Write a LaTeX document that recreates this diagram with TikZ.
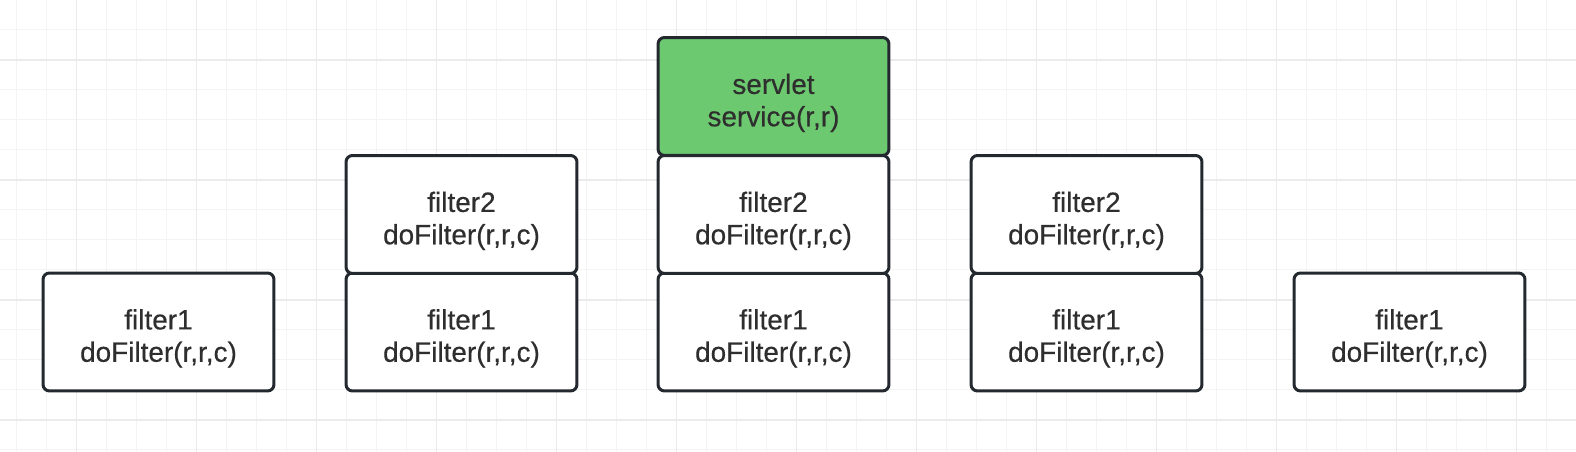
\documentclass[tikz,border=0pt]{standalone}
\usepackage{fontspec}
\setmainfont{Liberation Sans}
\newfontfamily\callfont{Liberation Sans}[FakeBold=0.35]
\definecolor{gridminor}{HTML}{F4F4F4}
\definecolor{gridmajor}{HTML}{EBEBEB}
\definecolor{boxline}{HTML}{23292F}
\definecolor{boxtext}{HTML}{2E2E2E}
\definecolor{servletgreen}{HTML}{6DC970}
\newcommand{\calllines}[2]{\rule{0pt}{0.66cm}#1\\#2}
\begin{document}
\begin{tikzpicture}[x=0.02cm,y=0.02cm,
    callbox/.style={draw=boxline, line width=0.06cm, rounded corners=0.13cm,
        fill=white, minimum width=4.62cm, minimum height=2.36cm,
        align=center, text=boxtext, font=\callfont\fontsize{15.9pt}{18.4pt}\selectfont},
    servletbox/.style={callbox, fill=servletgreen}]
    \useasboundingbox (0,0) rectangle (1576,452);
    \fill[white] (0,0) rectangle (1576,452);

    % background grid
    \foreach \gx in {0,...,52}
        \draw[gridminor, line width=0.02cm] (16.7+30*\gx,0) -- (16.7+30*\gx,452);
    \foreach \gy in {0,...,15}
        \draw[gridminor, line width=0.02cm] (0,452-30*\gy) -- (1576,452-30*\gy);
    \foreach \gx in {0,...,12}
        \draw[gridmajor, line width=0.03cm] (76.7+120*\gx,0) -- (76.7+120*\gx,452);
    \foreach \gy in {0,...,3}
        \draw[gridmajor, line width=0.03cm] (0,392-120*\gy) -- (1576,392-120*\gy);

    % step 1
    \node[callbox] (s1f1) at (158.5,120) {\calllines{filter1}{doFilter(r,r,c)}};

    % step 2
    \node[callbox] (s2f1) at (461.5,120) {\calllines{filter1}{doFilter(r,r,c)}};
    \node[callbox] (s2f2) at (461.5,237.5) {\calllines{filter2}{doFilter(r,r,c)}};

    % step 3
    \node[callbox] (s3f1) at (773.5,120) {\calllines{filter1}{doFilter(r,r,c)}};
    \node[callbox] (s3f2) at (773.5,237.5) {\calllines{filter2}{doFilter(r,r,c)}};
    \node[servletbox] (s3sv) at (773.5,355.5) {\calllines{servlet}{service(r,r)}};

    % step 4
    \node[callbox] (s4f1) at (1086.5,120) {\calllines{filter1}{doFilter(r,r,c)}};
    \node[callbox] (s4f2) at (1086.5,237.5) {\calllines{filter2}{doFilter(r,r,c)}};

    % step 5
    \node[callbox] (s5f1) at (1409.5,120) {\calllines{filter1}{doFilter(r,r,c)}};
\end{tikzpicture}
\end{document}
